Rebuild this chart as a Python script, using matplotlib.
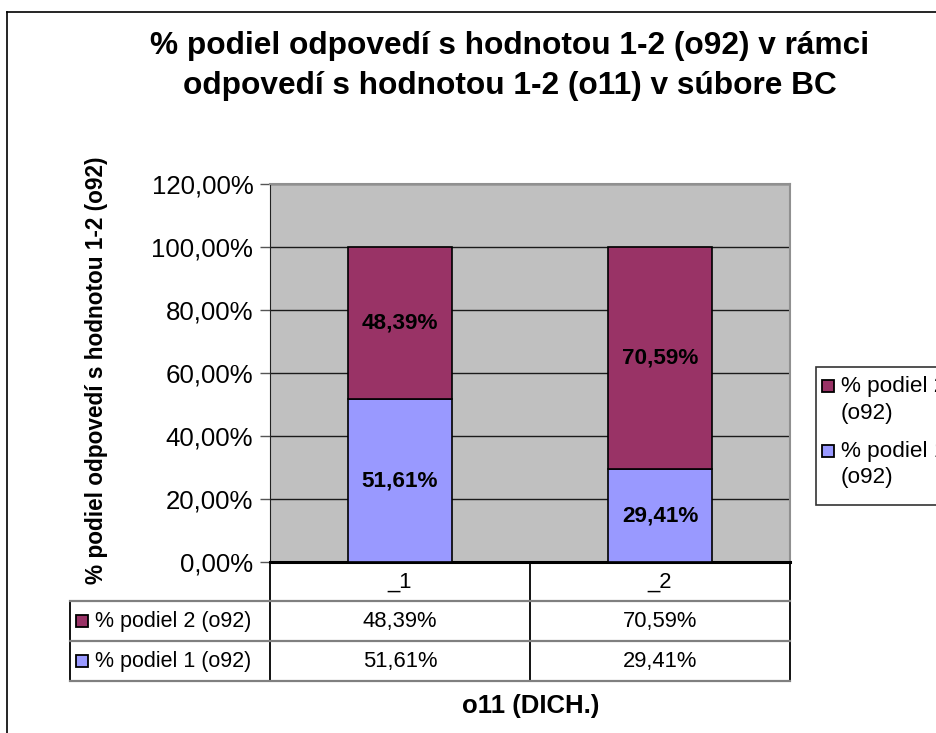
import matplotlib
matplotlib.use("Agg")
import matplotlib.pyplot as plt
from matplotlib.lines import Line2D
from matplotlib.patches import Rectangle

plt.rcParams['font.family'] = ['Liberation Sans', 'DejaVu Sans']

categories = ["_1", "_2"]
series_names = ["% podiel 1 (o92)", "% podiel 2 (o92)"]
podiel_1 = [51.61, 29.41]
podiel_2 = [48.39, 70.59]
yticks = [0, 20, 40, 60, 80, 100, 120]

col_1 = "#9999FF"
col_2 = "#993366"

W, H = 936, 733
fig = plt.figure(figsize=(W / 100, H / 100), dpi=100)


def px(x, y):
    # pixel coords (top-left origin) -> figure fraction
    return x / W, 1 - y / H


def fline(x0, y0, x1, y1, color="black", lw=1.0):
    a = px(x0, y0)
    b = px(x1, y1)
    fig.add_artist(Line2D([a[0], b[0]], [a[1], b[1]], color=color, lw=lw,
                          transform=fig.transFigure))


def fmt(v):
    return ("%.2f%%" % v).replace(".", ",")


# outer frame (only left and top are visible)
fline(7, 12, W + 5, 12, lw=1.2)
fline(7, 12, 7, H + 5, lw=1.2)

L, T, R, B = 270, 184, 790, 562
ax = fig.add_axes([L / W, 1 - B / H, (R - L) / W, (B - T) / H])
ax.set_facecolor("#C0C0C0")
ax.set_xlim(-0.5, len(categories) - 0.5)
ax.set_ylim(0, 120)
ax.set_yticks(yticks)
ax.set_yticklabels([fmt(t) for t in yticks], fontsize=18.6)
ax.set_xticks([])
ax.yaxis.grid(True, color="#1a1a1a", lw=1.0)
ax.set_axisbelow(True)
ax.tick_params(axis="y", length=7, width=1.0, color="#555555", pad=5)
for s in ["top", "right"]:
    ax.spines[s].set_color("#909090")
    ax.spines[s].set_linewidth(1.5)
ax.spines["left"].set_color("#222222")
ax.spines["bottom"].set_linewidth(2.2)

x = range(len(categories))
ax.bar(x, podiel_1, width=0.4, color=col_1, edgecolor="black", lw=1.2, zorder=3)
ax.bar(x, podiel_2, width=0.4, bottom=podiel_1, color=col_2, edgecolor="black",
       lw=1.2, zorder=3)
for i in x:
    ax.text(i, podiel_1[i] / 2, fmt(podiel_1[i]), ha="center", va="center",
            fontsize=16.2, fontweight="bold", zorder=4)
    ax.text(i, podiel_1[i] + podiel_2[i] / 2, fmt(podiel_2[i]), ha="center",
            va="center", fontsize=16.2, fontweight="bold", zorder=4)

# title
fig.text(*px(510, 46), "% podiel odpovedí s hodnotou 1-2 (o92) v rámci",
         ha="center", va="center", fontsize=22.8, fontweight="bold")
fig.text(*px(510, 86), "odpovedí s hodnotou 1-2 (o11) v súbore BC",
         ha="center", va="center", fontsize=22.8, fontweight="bold")

# y label
fig.text(*px(97, 370), "% podiel odpovedí s hodnotou 1-2 (o92)", rotation=90,
         ha="center", va="center", fontsize=16.3, fontweight="bold")

# data table below the axis
row_y = [562, 601, 641, 681]
left = 70
gray = "#808080"
fline(L, 562, L, row_y[-1], lw=1.3)
fline(530, 562, 530, row_y[-1], lw=1.3)
fline(R, 562, R, row_y[-1], lw=1.3)
fline(left, row_y[1], left, row_y[-1], lw=1.3)
for yy in row_y[1:]:
    fline(left, yy, R, yy, color=gray, lw=1.6)

col_x = [400, 660]
for i, c in enumerate(categories):
    fig.text(*px(col_x[i], 582), c, ha="center", va="center", fontsize=15.8)

rows = [(series_names[1], podiel_2, col_2), (series_names[0], podiel_1, col_1)]
for r, (name, vals, col) in enumerate(rows):
    yc = (row_y[r + 1] + row_y[r + 2]) / 2
    sx, sy = px(76, yc + 6)
    fig.add_artist(Rectangle((sx, sy), 12 / W, 12 / H, facecolor=col,
                             edgecolor="black", lw=1.3, transform=fig.transFigure))
    fig.text(*px(95, yc), name, ha="left", va="center", fontsize=15.5)
    for i, v in enumerate(vals):
        fig.text(*px(col_x[i], yc), fmt(v), ha="center", va="center", fontsize=15.8)

# x label
fig.text(*px(531, 706), "o11 (DICH.)", ha="center", va="center", fontsize=18.5,
         fontweight="bold")

# legend box (cut off at the right edge)
fig.add_artist(Rectangle(px(816, 505), 200 / W, 138 / H, facecolor="white",
                         edgecolor="#333333", lw=1.2, transform=fig.transFigure))
leg_rows = [(series_names[1], col_2, 386), (series_names[0], col_1, 451)]
for name, col, yy in leg_rows:
    sx, sy = px(822, yy + 6)
    fig.add_artist(Rectangle((sx, sy), 12 / W, 12 / H, facecolor=col,
                             edgecolor="black", lw=1.3, transform=fig.transFigure))
    short = name.replace(" (o92)", "")
    fig.text(*px(841, yy), short, ha="left", va="center", fontsize=16.2)
    fig.text(*px(841, yy + 27), "(o92)", ha="left", va="center", fontsize=16.2)

fig.savefig("out.png", dpi=100)
